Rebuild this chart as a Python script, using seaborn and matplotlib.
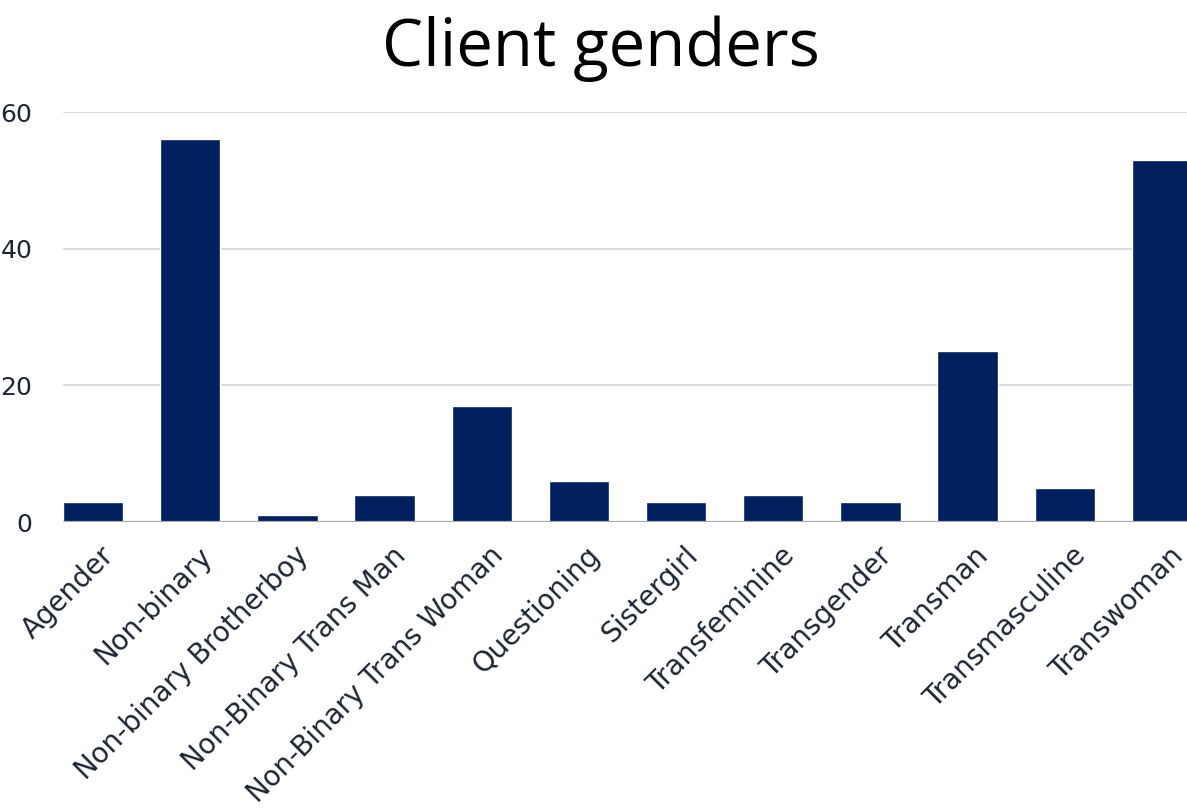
import matplotlib
matplotlib.use('Agg')
import matplotlib.pyplot as plt
import matplotlib.transforms as mtransforms
import seaborn as sns
import pandas as pd

# Dati del grafico
categorie = ['Agender', 'Non-binary', 'Non-binary Brotherboy', 'Non-Binary Trans Man',
             'Non-Binary Trans Woman', 'Questioning', 'Sistergirl', 'Transfeminine',
             'Transgender', 'Transman', 'Transmasculine', 'Transwoman']
valori = [3, 56, 1, 4, 17, 6, 3, 4, 3, 25, 5, 53]
yticks = [0, 20, 40, 60]

df = pd.DataFrame({'Genere': categorie, 'Clienti': valori})

sns.set_theme(style='white')
plt.rcParams['font.family'] = ['DejaVu Sans']

fig = plt.figure(figsize=(11.87, 8.09), dpi=100)
ax = fig.add_axes([63 / 1187, 1 - 522 / 809, 1129 / 1187, 410 / 809])

sns.barplot(x='Genere', y='Clienti', data=df, color='#002060', width=0.62,
            saturation=1, ax=ax, zorder=3)

ax.set_xlim(-0.31, 11.31)
ax.set_ylim(0, 60)
ax.set_yticks(yticks)
ax.grid(axis='y', color='#d9d9d9', linewidth=1.3, zorder=0)
ax.axhline(0, color='#a6aab0', linewidth=1.6, zorder=4)
for s in ax.spines.values():
    s.set_visible(False)

ax.set_xlabel('')
ax.set_ylabel('')
ax.tick_params(axis='y', length=0, pad=22, labelsize=18, labelcolor='#1c2633')
ax.tick_params(axis='x', length=0, pad=14, labelsize=20, labelcolor='#1c2633')

# sposto le etichette un po' a destra come nell'originale
offset = mtransforms.ScaledTranslation(0.07, 0, fig.dpi_scale_trans)
for lab in ax.get_xticklabels():
    lab.set_rotation(45)
    lab.set_ha('right')
    lab.set_rotation_mode('anchor')
    lab.set_transform(lab.get_transform() + offset)

fig.text(0.506, 0.918, 'Client genders', ha='center', va='baseline', fontsize=47,
         family=['Open Sans', 'DejaVu Sans'], color='black')

fig.savefig('out.png', dpi=100)
